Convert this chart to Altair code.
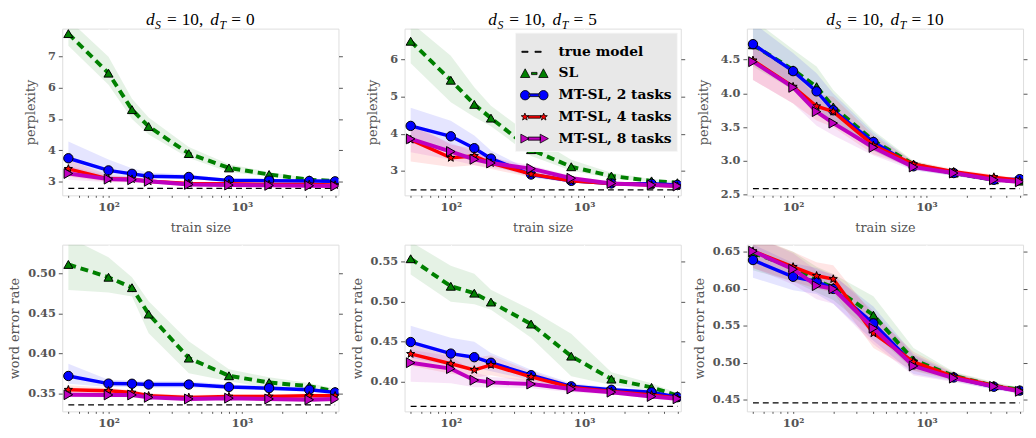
import math
import altair as alt
import pandas as pd

# ---------------- data ----------------
train_size = [50, 100, 150, 200, 400, 800, 1600, 3200, 5000]
series_names = ["true model", "SL", "MT-SL, 2 tasks", "MT-SL, 4 tasks", "MT-SL, 8 tasks"]
panel_titles_dT = ["0", "5", "10"]

# perplexity, d_T = 0
ppl0_sl = [7.74, 6.47, 5.30, 4.76, 3.89, 3.43, 3.22, 3.05, 3.01]
ppl0_sl_lo = [7.35, 6.10, 5.00, 4.50, 3.75, 3.30, 3.15, 2.99, 2.97]
ppl0_sl_hi = [8.20, 7.00, 5.65, 5.05, 4.10, 3.55, 3.30, 3.10, 3.05]
ppl0_mt2 = [3.74, 3.35, 3.24, 3.16, 3.14, 3.03, 3.02, 3.01, 3.00]
ppl0_mt2_lo = [3.30, 3.10, 3.10, 3.08, 3.08, 2.99, 2.98, 2.97, 2.96]
ppl0_mt2_hi = [4.28, 3.70, 3.42, 3.28, 3.22, 3.08, 3.06, 3.05, 3.04]
ppl0_mt4 = [3.40, 3.08, 3.07, 3.00, 2.93, 2.92, 2.90, 2.90, 2.88]
ppl0_mt4_lo = [3.15, 2.98, 2.98, 2.93, 2.88, 2.87, 2.86, 2.86, 2.85]
ppl0_mt4_hi = [3.70, 3.20, 3.15, 3.07, 2.98, 2.97, 2.94, 2.94, 2.92]
ppl0_mt8 = [3.25, 3.07, 3.05, 3.00, 2.90, 2.88, 2.87, 2.86, 2.85]
ppl0_mt8_lo = [3.05, 2.97, 2.96, 2.93, 2.85, 2.84, 2.83, 2.82, 2.82]
ppl0_mt8_hi = [3.50, 3.18, 3.14, 3.07, 2.96, 2.93, 2.91, 2.90, 2.89]
ppl0_true = 2.77

# perplexity, d_T = 5
ppl5_sl = [6.49, 5.44, 4.79, 4.42, 3.57, 3.11, 2.86, 2.73, 2.68]
ppl5_sl_lo = [5.90, 4.85, 4.45, 4.20, 3.40, 3.00, 2.80, 2.69, 2.65]
ppl5_sl_hi = [7.00, 6.10, 5.25, 4.75, 3.95, 3.30, 2.95, 2.78, 2.72]
ppl5_mt2 = [4.21, 3.93, 3.61, 3.33, 2.90, 2.73, 2.66, 2.65, 2.62]
ppl5_mt2_lo = [3.75, 3.50, 3.30, 3.15, 2.83, 2.68, 2.62, 2.61, 2.59]
ppl5_mt2_hi = [4.70, 4.35, 3.95, 3.55, 3.00, 2.80, 2.70, 2.68, 2.65]
ppl5_mt4 = [3.84, 3.35, 3.40, 3.21, 2.91, 2.73, 2.66, 2.62, 2.59]
ppl5_mt4_lo = [3.25, 3.10, 3.15, 3.05, 2.82, 2.68, 2.62, 2.59, 2.56]
ppl5_mt4_hi = [4.30, 3.70, 3.60, 3.40, 3.00, 2.78, 2.70, 2.65, 2.62]
ppl5_mt8 = [3.86, 3.52, 3.31, 3.21, 3.06, 2.80, 2.66, 2.62, 2.59]
ppl5_mt8_lo = [3.50, 3.30, 3.15, 3.08, 2.95, 2.72, 2.62, 2.59, 2.56]
ppl5_mt8_hi = [4.20, 3.75, 3.50, 3.35, 3.15, 2.87, 2.70, 2.65, 2.62]
ppl5_true = 2.49

# perplexity, d_T = 10
ppl10_sl = [4.72, 4.35, 4.10, 3.80, 3.30, 2.95, 2.82, 2.72, 2.70]
ppl10_sl_lo = [4.40, 4.05, 3.80, 3.55, 3.15, 2.88, 2.78, 2.69, 2.67]
ppl10_sl_hi = [5.10, 4.65, 4.40, 4.05, 3.45, 3.00, 2.86, 2.76, 2.73]
ppl10_mt2 = [4.73, 4.33, 4.03, 3.75, 3.28, 2.92, 2.82, 2.72, 2.73]
ppl10_mt2_lo = [4.45, 4.05, 3.80, 3.55, 3.15, 2.86, 2.78, 2.69, 2.69]
ppl10_mt2_hi = [5.05, 4.60, 4.30, 4.00, 3.42, 2.98, 2.86, 2.76, 2.76]
ppl10_mt4 = [4.49, 4.10, 3.81, 3.73, 3.23, 2.95, 2.84, 2.76, 2.71]
ppl10_mt4_lo = [4.20, 3.85, 3.60, 3.50, 3.10, 2.90, 2.80, 2.72, 2.68]
ppl10_mt4_hi = [4.75, 4.35, 4.00, 3.95, 3.38, 3.00, 2.88, 2.80, 2.74]
ppl10_mt8 = [4.47, 4.09, 3.73, 3.56, 3.20, 2.91, 2.82, 2.72, 2.69]
ppl10_mt8_lo = [4.20, 3.85, 3.52, 3.38, 3.08, 2.86, 2.78, 2.69, 2.66]
ppl10_mt8_hi = [4.70, 4.30, 3.95, 3.75, 3.33, 2.97, 2.86, 2.76, 2.72]
ppl10_true = 2.59

# word error rate, d_T = 0
wer0_sl = [0.511, 0.495, 0.482, 0.449, 0.394, 0.372, 0.3635, 0.359, 0.3524]
wer0_sl_lo = [0.479, 0.476, 0.471, 0.425, 0.375, 0.365, 0.357, 0.355, 0.350]
wer0_sl_hi = [0.545, 0.520, 0.495, 0.465, 0.415, 0.380, 0.370, 0.363, 0.356]
wer0_mt2 = [0.3717, 0.3622, 0.362, 0.361, 0.361, 0.358, 0.3565, 0.3545, 0.3512]
wer0_mt2_lo = [0.362, 0.358, 0.358, 0.357, 0.357, 0.355, 0.354, 0.352, 0.349]
wer0_mt2_hi = [0.387, 0.367, 0.366, 0.365, 0.365, 0.361, 0.359, 0.357, 0.354]
wer0_mt4 = [0.3545, 0.3532, 0.351, 0.347, 0.345, 0.346, 0.346, 0.347, 0.347]
wer0_mt4_lo = [0.350, 0.350, 0.348, 0.344, 0.342, 0.343, 0.343, 0.344, 0.344]
wer0_mt4_hi = [0.360, 0.357, 0.354, 0.350, 0.348, 0.349, 0.349, 0.350, 0.350]
wer0_mt8 = [0.3483, 0.348, 0.348, 0.345, 0.343, 0.344, 0.343, 0.342, 0.343]
wer0_mt8_lo = [0.345, 0.345, 0.345, 0.342, 0.340, 0.341, 0.340, 0.340, 0.340]
wer0_mt8_hi = [0.352, 0.351, 0.351, 0.348, 0.346, 0.347, 0.346, 0.345, 0.346]
wer0_true = 0.3356

# word error rate, d_T = 5
wer5_sl = [0.5537, 0.5193, 0.5107, 0.4996, 0.4721, 0.432, 0.4033, 0.393, 0.3828]
wer5_sl_lo = [0.534, 0.500, 0.497, 0.490, 0.455, 0.407, 0.396, 0.389, 0.379]
wer5_sl_hi = [0.575, 0.545, 0.535, 0.515, 0.490, 0.460, 0.412, 0.398, 0.386]
wer5_mt2 = [0.4496, 0.4352, 0.4307, 0.4238, 0.4082, 0.3943, 0.390, 0.3869, 0.3807]
wer5_mt2_lo = [0.430, 0.420, 0.418, 0.413, 0.402, 0.390, 0.387, 0.384, 0.378]
wer5_mt2_hi = [0.470, 0.455, 0.450, 0.436, 0.415, 0.398, 0.393, 0.390, 0.383]
wer5_mt4 = [0.4348, 0.4225, 0.4148, 0.421, 0.4061, 0.393, 0.388, 0.3836, 0.3795]
wer5_mt4_lo = [0.420, 0.410, 0.405, 0.408, 0.399, 0.389, 0.385, 0.381, 0.377]
wer5_mt4_hi = [0.448, 0.438, 0.430, 0.433, 0.413, 0.397, 0.391, 0.386, 0.382]
wer5_mt8 = [0.4238, 0.4164, 0.402, 0.3992, 0.3971, 0.391, 0.387, 0.3816, 0.3787]
wer5_mt8_lo = [0.400, 0.398, 0.393, 0.393, 0.392, 0.387, 0.384, 0.379, 0.376]
wer5_mt8_hi = [0.440, 0.432, 0.412, 0.406, 0.403, 0.395, 0.390, 0.384, 0.381]
wer5_true = 0.3693

# word error rate, d_T = 10
wer10_sl = [0.6487, 0.6287, 0.611, 0.6021, 0.5644, 0.5037, 0.4824, 0.469, 0.4637]
wer10_sl_lo = [0.625, 0.610, 0.595, 0.585, 0.540, 0.490, 0.477, 0.465, 0.460]
wer10_sl_hi = [0.670, 0.650, 0.630, 0.620, 0.590, 0.520, 0.488, 0.474, 0.467]
wer10_mt2 = [0.6389, 0.6163, 0.610, 0.5999, 0.5533, 0.4979, 0.4802, 0.4677, 0.4624]
wer10_mt2_lo = [0.615, 0.598, 0.593, 0.580, 0.530, 0.485, 0.475, 0.464, 0.459]
wer10_mt2_hi = [0.660, 0.635, 0.628, 0.618, 0.576, 0.512, 0.486, 0.472, 0.466]
wer10_mt4 = [0.651, 0.6296, 0.6176, 0.6132, 0.540, 0.5014, 0.4815, 0.469, 0.4624]
wer10_mt4_lo = [0.628, 0.610, 0.600, 0.595, 0.520, 0.489, 0.476, 0.465, 0.459]
wer10_mt4_hi = [0.672, 0.650, 0.636, 0.632, 0.565, 0.515, 0.487, 0.473, 0.466]
wer10_mt8 = [0.6509, 0.6265, 0.6043, 0.5999, 0.5467, 0.4957, 0.4793, 0.4682, 0.4615]
wer10_mt8_lo = [0.628, 0.606, 0.586, 0.580, 0.525, 0.483, 0.474, 0.464, 0.458]
wer10_mt8_hi = [0.672, 0.648, 0.625, 0.620, 0.570, 0.510, 0.485, 0.472, 0.465]
wer10_true = 0.446

# axis ticks / ranges
x_minor = [50, 60, 70, 80, 90, 200, 300, 400, 500, 600, 700, 800, 900, 2000, 3000, 4000, 5000]
y_ticks = [
    [3, 4, 5, 6, 7],
    [3, 4, 5, 6],
    [2.5, 3.0, 3.5, 4.0, 4.5],
    [0.35, 0.40, 0.45, 0.50],
    [0.40, 0.45, 0.50, 0.55],
    [0.45, 0.50, 0.55, 0.60, 0.65],
]
y_domains = [
    [2.55, 7.9], [2.34, 6.83], [2.49, 4.96],
    [0.3275, 0.5357], [0.363, 0.5713], [0.4344, 0.6597],
]
y_formats = ["d", "d", ".1f", ".2f", ".2f", ".2f"]

panels_data = [
    (ppl0_true, [(ppl0_sl, ppl0_sl_lo, ppl0_sl_hi), (ppl0_mt2, ppl0_mt2_lo, ppl0_mt2_hi),
                 (ppl0_mt4, ppl0_mt4_lo, ppl0_mt4_hi), (ppl0_mt8, ppl0_mt8_lo, ppl0_mt8_hi)]),
    (ppl5_true, [(ppl5_sl, ppl5_sl_lo, ppl5_sl_hi), (ppl5_mt2, ppl5_mt2_lo, ppl5_mt2_hi),
                 (ppl5_mt4, ppl5_mt4_lo, ppl5_mt4_hi), (ppl5_mt8, ppl5_mt8_lo, ppl5_mt8_hi)]),
    (ppl10_true, [(ppl10_sl, ppl10_sl_lo, ppl10_sl_hi), (ppl10_mt2, ppl10_mt2_lo, ppl10_mt2_hi),
                  (ppl10_mt4, ppl10_mt4_lo, ppl10_mt4_hi), (ppl10_mt8, ppl10_mt8_lo, ppl10_mt8_hi)]),
    (wer0_true, [(wer0_sl, wer0_sl_lo, wer0_sl_hi), (wer0_mt2, wer0_mt2_lo, wer0_mt2_hi),
                 (wer0_mt4, wer0_mt4_lo, wer0_mt4_hi), (wer0_mt8, wer0_mt8_lo, wer0_mt8_hi)]),
    (wer5_true, [(wer5_sl, wer5_sl_lo, wer5_sl_hi), (wer5_mt2, wer5_mt2_lo, wer5_mt2_hi),
                 (wer5_mt4, wer5_mt4_lo, wer5_mt4_hi), (wer5_mt8, wer5_mt8_lo, wer5_mt8_hi)]),
    (wer10_true, [(wer10_sl, wer10_sl_lo, wer10_sl_hi), (wer10_mt2, wer10_mt2_lo, wer10_mt2_hi),
                  (wer10_mt4, wer10_mt4_lo, wer10_mt4_hi), (wer10_mt8, wer10_mt8_lo, wer10_mt8_hi)]),
]

# ---------------- styles ----------------
COLORS = ["#000000", "#008000", "#0000FF", "#FF0000", "#BF00BF"]
BG = "#E5E5E5"
GRAY = "#555555"
SERIF = "DejaVu Serif"
W, H = 280, 169


def star(cx=0.0, cy=0.0, r=1.0, inner=0.42):
    pts = []
    for k in range(10):
        rr = r if k % 2 == 0 else r * inner
        a = -math.pi / 2 + k * math.pi / 5
        pts.append(f"{cx + rr * math.cos(a):.3f},{cy + rr * math.sin(a):.3f}")
    return "M" + "L".join(pts) + "Z"


def tri_up(cx, r):
    return f"M{cx - r:.3f},{0.85 * r:.3f}L{cx:.3f},{-r:.3f}L{cx + r:.3f},{0.85 * r:.3f}Z"


def tri_right(cx, r):
    return f"M{cx - 0.85 * r:.3f},{-r:.3f}L{cx + r:.3f},0L{cx - 0.85 * r:.3f},{r:.3f}Z"


def circ(cx, r):
    return (f"M{cx - r:.3f},0A{r},{r} 0 1,0 {cx + r:.3f},0"
            f"A{r},{r} 0 1,0 {cx - r:.3f},0Z")


def bar(x0, x1, h=0.07):
    return f"M{x0:.3f},{-h}L{x1:.3f},{-h}L{x1:.3f},{h}L{x0:.3f},{h}Z"


mr = 0.34
legend_paths = [
    bar(-0.9, -0.45, 0.04) + bar(0.05, 0.5, 0.04),
    tri_up(-0.66, mr) + bar(-0.2, 0.2, 0.08) + tri_up(0.66, mr),
    bar(-0.4, 0.4, 0.1) + circ(-0.66, mr) + circ(0.66, mr),
    bar(-0.45, 0.45, 0.09) + star(-0.68, 0, 0.28) + star(0.68, 0, 0.28),
    bar(-0.45, 0.45, 0.11) + tri_right(-0.7, 0.32) + tri_right(0.7, 0.32),
]

marker_shapes = ["triangle-up", "circle", star(), "triangle-right"]
marker_sizes = [85, 90, 75, 100]
line_widths = [4, 3.5, 3.5, 4]
line_dashes = [[8, 5], None, None, None]


def title_layers(dT):
    """math-like title d_S = 10, d_T = <dT> built from text pieces"""
    fs, sfs = 17.5, 12
    dw, sw, ew, digw, cw = 9.2, 7.0, 10.0, 8.8, 4.4
    pieces = []
    x = 0.0
    pieces.append(("d", x, 0, fs, "italic")); x += dw
    pieces.append(("S", x, 4, sfs, "italic")); x += sw + 5
    pieces.append(("=", x, 0, fs, "normal")); x += ew + 5
    pieces.append(("10,", x, 0, fs, "normal")); x += 2 * digw + cw + 7
    pieces.append(("d", x, 0, fs, "italic")); x += dw
    pieces.append(("T", x, 4, sfs, "italic")); x += sw + 5
    pieces.append(("=", x, 0, fs, "normal")); x += ew + 5
    pieces.append((dT, x, 0, fs, "normal")); x += digw * len(dT)
    x0 = W / 2 - x / 2
    one = pd.DataFrame({"k": [0]})
    out = []
    for txt, px, dy, size, style in pieces:
        out.append(
            alt.Chart(one).mark_text(
                align="left", baseline="alphabetic", font="Liberation Serif",
                fontSize=size, fontStyle=style, color="black",
            ).encode(x=alt.value(x0 + px), y=alt.value(-4 + dy), text=alt.value(txt))
        )
    return out


def make_panel(i):
    true_val, series = panels_data[i]
    top = i < 3
    xscale = alt.Scale(type="log", domain=[45, 5300], nice=False)
    yscale = alt.Scale(domain=y_domains[i], nice=False, zero=False)
    xaxis = alt.Axis(
        values=x_minor[:5] + [100] + x_minor[5:13] + [1000] + x_minor[13:],
        labelExpr="datum.value == 100 ? '10²' : (datum.value == 1000 ? '10³' : '')",
        grid=True, gridColor="white", gridWidth=1,
        gridOpacity={"condition": {"test": "datum.value == 100 || datum.value == 1000", "value": 1}, "value": 0},
        tickSize=2, tickColor=GRAY, tickWidth=1, domain=False,
        labelFont=SERIF, labelFontWeight="bold", labelFontSize=12, labelColor=GRAY,
        labelPadding=4, labelFlush=False, labelOverlap=False,
        title="train size" if top else None, titleFont=SERIF, titleFontWeight="normal",
        titleFontSize=13, titleColor=GRAY, titlePadding=10,
    )
    X = alt.X("x:Q", scale=xscale, axis=xaxis)
    yleft = alt.Axis(
        values=y_ticks[i], format=y_formats[i], grid=True, gridColor="white", gridWidth=1,
        tickSize=4, tickColor=GRAY, domain=False, labelFont=SERIF, labelFontWeight="bold",
        labelFontSize=11.5, labelColor=GRAY, labelPadding=3,
        title="perplexity" if top else "word error rate", titleFont=SERIF,
        titleFontWeight="normal", titleFontSize=13, titleColor=GRAY,
        titlePadding=10 if top else 6,
    )
    yright = alt.Axis(
        orient="right", values=y_ticks[i], labels=False, ticks=True, tickSize=4,
        tickColor=GRAY, domain=False, grid=False, title=None,
    )

    true_df = pd.DataFrame({"x": train_size, "y": [true_val] * len(train_size)})
    layers = []
    for k, (m, lo, hi) in enumerate(series):
        d = pd.DataFrame({"x": train_size, "lo": lo, "hi": hi})
        layers.append(
            alt.Chart(d).mark_area(color=COLORS[k + 1], opacity=0.1, clip=True).encode(
                x=X, y=alt.Y("lo:Q", scale=yscale, axis=None), y2="hi:Q")
        )
    layers.append(
        alt.Chart(true_df).mark_line(color="black", strokeDash=[6, 4], strokeWidth=1.3).encode(
            x=X, y=alt.Y("y:Q", scale=yscale, axis=yleft))
    )
    layers.append(
        alt.Chart(true_df).mark_line(opacity=0).encode(
            x=X, y=alt.Y("y:Q", scale=yscale, axis=yright))
    )
    for k, (m, lo, hi) in enumerate(series):
        d = pd.DataFrame({"x": train_size, "y": m})
        lkw = dict(color=COLORS[k + 1], strokeWidth=line_widths[k], clip=True)
        if line_dashes[k]:
            lkw["strokeDash"] = line_dashes[k]
        layers.append(
            alt.Chart(d).mark_line(**lkw).encode(
                x=X, y=alt.Y("y:Q", scale=yscale, axis=None))
        )
        layers.append(
            alt.Chart(d).mark_point(
                shape=marker_shapes[k], size=marker_sizes[k], filled=True,
                fill=COLORS[k + 1], stroke="black", strokeWidth=1, opacity=1, clip=True,
            ).encode(x=X, y=alt.Y("y:Q", scale=yscale, axis=None))
        )
    if i == 1:
        leg_df = pd.DataFrame({"x": train_size[:5], "y": [true_val] * 5, "series": series_names})
        leg = alt.Legend(
            title=None, orient="top-right", offset=4, symbolSize=784,
            symbolStrokeColor="black", symbolStrokeWidth=0.8,
            labelFont=SERIF, labelFontWeight="bold", labelFontSize=14, labelColor="black",
            fillColor="#E8E8E8", strokeColor="#F7F7F7", padding=5, rowPadding=0,
            labelOffset=10, cornerRadius=0,
        )
        layers.append(
            alt.Chart(leg_df).transform_filter("datum.x < 0").mark_point(
                filled=True, stroke="black", strokeWidth=0.8, opacity=1,
            ).encode(
                x=X, y=alt.Y("y:Q", scale=yscale, axis=None),
                color=alt.Color("series:N", scale=alt.Scale(domain=series_names, range=COLORS), legend=leg),
                shape=alt.Shape("series:N", scale=alt.Scale(domain=series_names, range=legend_paths), legend=leg),
            )
        )
    if top:
        layers += title_layers(panel_titles_dT[i])
    return alt.layer(*layers).resolve_axis(y="independent").properties(width=W, height=H)


panels = [make_panel(i) for i in range(6)]
chart = alt.concat(
    *panels, columns=3, spacing=alt.RowColnumber(column=67, row=50), bounds="flush"
).resolve_scale(
    color="independent", shape="independent"
).resolve_legend(
    color="independent", shape="independent"
).properties(
    padding={"left": 0, "top": -1, "right": 0, "bottom": 0},
).configure_view(
    fill=BG, stroke=None
).configure(background="white")

chart.save("out.html", embed_options={"renderer": "svg", "actions": False})
